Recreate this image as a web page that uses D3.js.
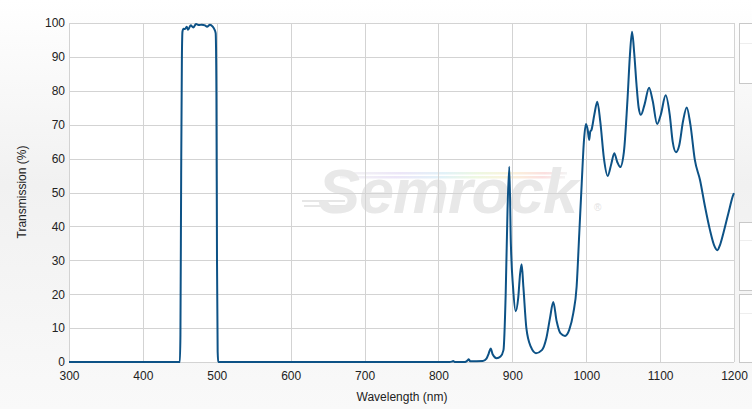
<!DOCTYPE html>
<html><head><meta charset="utf-8">
<script src="https://cdn.jsdelivr.net/npm/d3@7"></script>
<style>html,body{margin:0;padding:0;background:#fff;}svg{display:block;}</style>
</head><body>
<svg id="chart" width="752" height="409"></svg>
<script>
const wavelengths = [300,450,450.8,451.8,452.8,453.6,455,457,459.3,461,464.7,468.2,471.9,476,479.6,484,486.8,490.8,494.5,496.6,498.5,499.5,500.3,501.2,502,
 815,818,820,822,836,839,841,843,860,865,868,870.7,873.5,878.8,884,888,891,893.5,895.9,898,901,904.5,908,910.5,912.6,915,919,925,932,940,946,951,955.4,960,965,971.3,977,982.5,987,990.6,993.9,997,999.7,1002,1004,1005.5,1007,1011,1015,1019,1024,1029,1034,1038,1042,1046,1051,1056,1059,1062,1065,1068,1071,1074,1079,1085,1090,1096,1101,1107.5,1113,1117,1121.5,1126,1131,1136,1141,1147,1154,1160.8,1167.5,1173,1177.5,1181,1185.6,1192.4,1199,1200];
const transmission = [0,0,8,55,90,97.5,98.3,98.2,98.9,98,99.3,98.7,99.7,99.4,99.5,99.3,98.9,99.5,98.9,98.2,97,80,30,3,0,
 0,0.1,0.3,0,0,0.4,0.8,0.2,0.3,1,2.5,4,2.2,1.1,1.6,3.5,20,45,57.6,35,22,15,19,26,28.8,22,10,4.5,2.6,3.5,7,13,17.7,12,8.5,7.7,9.5,14.4,22.2,38,52.7,65.5,70.2,68.5,65.5,68,68.4,73,76.8,71,60,54.9,58.5,61.6,59,57.5,62,78,90,97.4,91,82,75,72.9,76,80.9,77,70.2,73,78.7,73,65,61.9,64,71,75.1,70,59.6,53.7,45.8,38.9,34.5,33,34.5,38,43.9,49.3,49.8];
const xTicks = [300,400,500,600,700,800,900,1000,1100,1200];
const yTicks = [0,10,20,30,40,50,60,70,80,90,100];

const svg = d3.select('#chart');
const W = 752, H = 409;
const m = {left:69, right:18, top:23, bottom:47};
const defs = svg.append('defs');
const bg = defs.append('linearGradient').attr('id','bg').attr('x1',0).attr('y1',0).attr('x2',0).attr('y2',1);
bg.append('stop').attr('offset','0%').attr('stop-color','#ffffff');
bg.append('stop').attr('offset','45%').attr('stop-color','#f1f1f1');
bg.append('stop').attr('offset','100%').attr('stop-color','#f9f9f9');
const rb = defs.append('linearGradient').attr('id','rainbow').attr('x1',0).attr('y1',0).attr('x2',1).attr('y2',0);
[['0%','#f4f4f4'],['25%','#ece6f8'],['45%','#e2f2f8'],['60%','#eef8e2'],['75%','#fbf3dc'],['90%','#fbe0e0'],['100%','#f4f4f4']].forEach(s=>rb.append('stop').attr('offset',s[0]).attr('stop-color',s[1]));
svg.append('rect').attr('width',W).attr('height',H).attr('fill','url(#bg)');

const x = d3.scaleLinear().domain([300,1200]).range([m.left, W-m.right]);
const y = d3.scaleLinear().domain([0,100]).range([H-m.bottom, m.top]);

svg.append('rect').attr('x',x(300)).attr('y',y(100)).attr('width',x(1200)-x(300)).attr('height',y(0)-y(100)).attr('fill','#fff');

// side panels (cut off)
[[23,83,43],[222,290,240],[294,362,313]].forEach(b=>{
  svg.append('rect').attr('x',739.5).attr('y',b[0]+0.5).attr('width',20).attr('height',b[1]-b[0]).attr('fill','#fff').attr('stroke','#c8c8c8');
  svg.append('line').attr('x1',740).attr('x2',752).attr('y1',b[2]+0.5).attr('y2',b[2]+0.5).attr('stroke','#eeeeee');
});

// watermark
const wm = svg.append('g');
wm.append('rect').attr('x',345).attr('y',172).attr('width',222).attr('height',2.5).attr('fill','url(#rainbow)');
wm.append('rect').attr('x',340).attr('y',176).attr('width',225).attr('height',2.5).attr('fill','url(#rainbow)');
wm.append('path').attr('d','M302,201 L345,201 M304,206 L345,206').attr('stroke','#e6e6e6').attr('stroke-width',2.2).attr('fill','none');
wm.append('text').attr('x',318).attr('y',213).attr('font-family','Liberation Sans, Arial, sans-serif').attr('font-weight','bold').attr('font-style','italic').attr('font-size',63).attr('letter-spacing',-1).attr('fill','#e8e8e8').text('Semrock');
wm.append('text').attr('x',594).attr('y',211).attr('font-family','Liberation Sans, Arial, sans-serif').attr('font-size',10).attr('fill','#e2e2e2').text('®');

// grid
const g = svg.append('g');
g.selectAll('.vg').data(xTicks).join('line').attr('x1',d=>Math.round(x(d))+0.5).attr('x2',d=>Math.round(x(d))+0.5).attr('y1',y(100)).attr('y2',y(0)).attr('stroke','#d3d3d3');
g.selectAll('.hg').data(yTicks).join('line').attr('y1',d=>Math.round(y(d))+0.5).attr('y2',d=>Math.round(y(d))+0.5).attr('x1',x(300)).attr('x2',x(1200)).attr('stroke','#d3d3d3');

// axes labels via d3 axes
const font = 'Liberation Sans, Arial, sans-serif';
const xAxis = svg.append('g').attr('transform',`translate(0,${y(0)})`).call(d3.axisBottom(x).tickValues(xTicks).tickFormat(d3.format('d')).tickSize(0).tickPadding(9));
const yAxis = svg.append('g').attr('transform',`translate(${x(300)},0)`).call(d3.axisLeft(y).tickValues(yTicks).tickFormat(d3.format('d')).tickSize(0).tickPadding(4));
[xAxis,yAxis].forEach(a=>{a.select('.domain').remove();a.selectAll('text').attr('font-family',font).attr('font-size',12).attr('fill','#222');});

svg.append('text').attr('x',402).attr('y',401).attr('text-anchor','middle').attr('font-family',font).attr('font-size',12).attr('fill','#222').text('Wavelength (nm)');
svg.append('text').attr('transform','translate(26,192) rotate(-90)').attr('text-anchor','middle').attr('font-family',font).attr('font-size',12).attr('fill','#222').text('Transmission (%)');

// line
const data = wavelengths.map((w,i)=>({w, t:transmission[i]}));
svg.append('path').datum(data).attr('fill','none').attr('stroke','#0d5286').attr('stroke-width',2).attr('stroke-linejoin','round')
  .attr('d', d3.line().x(d=>x(d.w)).y(d=>y(d.t)).curve(d3.curveMonotoneX));
</script>
</body></html>
